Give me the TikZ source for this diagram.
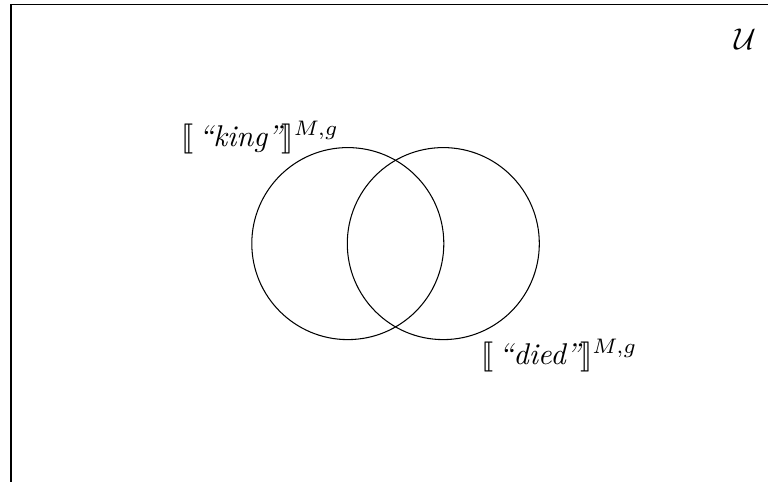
\documentclass[tikz,border=0pt]{standalone}
\usepackage{stmaryrd}
\begin{document}
\begin{tikzpicture}[x=0.333pt,y=-0.333pt,
  setcircle/.style={draw,circle,line width=0.35pt,minimum size=63.94pt,inner sep=0pt},
  lbl/.style={inner sep=0pt,anchor=base west}]
\useasboundingbox (0,0) rectangle (768,482);
\clip (0,0) rectangle (768,482);
\draw[line width=0.5pt] (11,530) -- (11,4.5) -- (820,4.5);
\node[setcircle] (king) at (347.8,243.6) {};
\node[setcircle] (died) at (443.3,243.6) {};
\node[lbl] (kinglbl) at (181,146.5) {$\llbracket\,\textit{``king''}\rrbracket^{M,g}$};
\node[lbl] (diedlbl) at (481,364.5) {$\llbracket\,\textit{``died''}\rrbracket^{M,g}$};
\node[inner sep=0pt] (U) at (745,39) {$\mathcal{U}$};
\end{tikzpicture}
\end{document}
